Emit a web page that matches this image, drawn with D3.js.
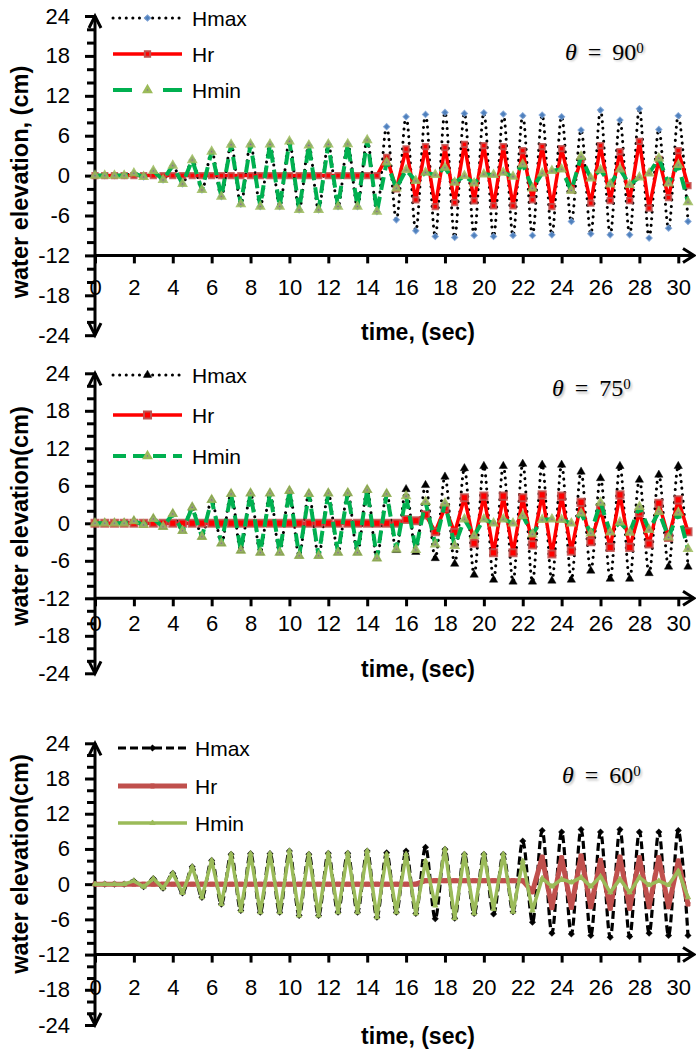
<!DOCTYPE html>
<html><head><meta charset="utf-8">
<script src="https://cdn.jsdelivr.net/npm/d3@7"></script>
<style>body{margin:0;background:#fff}svg{display:block}</style>
</head><body>
<svg id="c" width="696" height="1055"></svg>
<script>
// ---------------- data ----------------
const times = [0,0.5,1,1.5,2,2.5,3,3.5,4,4.5,5,5.5,6,6.5,7,7.5,8,8.5,9,9.5,10,10.5,11,11.5,12,12.5,13,13.5,14,14.5,15,15.5,16,16.5,17,17.5,18,18.5,19,19.5,20,20.5,21,21.5,22,22.5,23,23.5,24,24.5,25,25.5,26,26.5,27,27.5,28,28.5,29,29.5,30,30.5];
const xTickLabels = [0,2,4,6,8,10,12,14,16,18,20,22,24,26,28,30];
const yTickLabels = [-24,-18,-12,-6,0,6,12,18,24];
const seriesNames = ["Hmax","Hr","Hmin"];

// theta = 90
const hmax90 = [0,0,0,0,0.35,-0.2,0.7,-0.65,1.5,-1.25,2.35,-2.15,3.6,-3.15,4.65,-4.3,4.7,-4.65,4.7,-4.65,5.15,-5.15,4.55,-5.15,4.7,-4.65,4.75,-4.65,5.35,-5.4,
  7.35,-6.65,8.85,-8.3,9.2,-9.15,9.5,-9.3,9.35,-9.0,9.45,-9.15,9.25,-9.0,9.0,-9.0,9.1,-8.9,8.85,-6.9,6.85,-8.75,9.85,-8.9,8.35,-8.9,10.05,-9.4,6.95,-7.9,9.0,-6.9];
const hr90 = [0,0,0,0,0,0,0,0,0,0,0,0,0,0,0,0,0,0,0,0,0,0,0,0,0,0,0,0,0,0,
  2.75,-2.0,4.0,-3.65,4.35,-4.65,4.2,-4.05,4.7,-3.8,4.5,-4.55,4.35,-4.55,3.75,-3.65,4.35,-4.65,4.05,-2.15,2.35,-4.15,4.5,-3.75,3.6,-3.75,5.15,-4.9,2.45,-3.3,3.75,-1.5];
const hmin90 = [0,0,0,0,0.35,-0.2,0.7,-0.65,1.5,-1.25,2.35,-2.15,3.6,-3.15,4.65,-4.3,4.7,-4.65,4.7,-4.65,5.15,-5.15,4.55,-5.15,4.7,-4.65,4.75,-4.65,5.35,-5.4,
  2.0,-1.9,0.85,-0.8,0.45,0.1,1.2,-1.05,-0.05,-1.15,0.2,0.1,0.45,-0.15,1.7,-1.9,0.35,0.7,0.95,-2.25,2.85,-0.4,0.85,-1.3,0.95,-1.4,-0.25,0.35,2.6,-1.15,1.6,-4.0];

// theta = 75
const hmax75 = [0,0,0,0,0.35,-0.25,0.7,-0.55,1.5,-1.2,2.55,-2.15,3.75,-3.2,4.7,-4.35,4.8,-4.7,4.8,-4.7,5.2,-5.2,4.7,-5.2,4.8,-4.7,4.85,-4.7,5.35,-5.6,4.7,
  -4.3,5.45,-4.6,6.1,-5.6,7.45,-6.5,8.8,-8.25,9.15,-9.05,9.15,-9.35,9.5,-9.35,9.35,-9.2,9.35,-9.05,8.25,-7.6,7.2,-8.9,9.15,-8.9,6.95,-8.0,7.75,-6.95,9.15,-6.95];
const hr75 = [0,0,0,0,0,0,0,0,0,0,0,0,0,0,0,0,0,0,0,0,0,0,0,0,0,0,0,0,0,0,0,0,
  0.6,0.4,1.35,-1.35,2.5,-1.45,4.1,-3.2,4.35,-4.7,4.35,-4.7,4.1,-3.45,4.55,-4.9,4.35,-4.45,3.35,-2.95,2.15,-3.85,4.55,-3.85,1.7,-3.3,3.2,-2.25,3.75,-1.35];
const hmin75 = [0,0,0,0,0.35,-0.25,0.7,-0.55,1.5,-1.2,2.55,-2.15,3.75,-3.2,4.7,-4.35,4.8,-4.7,4.8,-4.7,5.2,-5.2,4.7,-5.2,4.8,-4.7,4.85,-4.7,5.35,-5.6,
  4.7,-4.15,4.35,-4.25,3.45,-3.35,3.2,-3.6,0.65,-2.0,0.65,0,0.65,0,1.2,-1.75,0.55,0.65,0.55,0,1.6,-1.6,3.3,-1.45,0.15,-1.5,2.65,-1.05,1.85,-2.25,1.7,-4.1];

// theta = 60
const hmax60 = [0,0,0,0,0.55,-0.45,0.95,-0.7,1.85,-1.5,2.95,-2.25,4.05,-3.4,5.1,-4.5,5.2,-4.8,5.2,-4.8,5.65,-5.35,5.1,-5.35,5.25,-4.8,5.25,-4.8,5.65,-5.65,
  5.35,-4.8,5.65,-5.0,6.3,-5.9,5.95,-5.8,5.1,-5.0,5.1,-5.1,5.1,-4.7,7.35,-6.5,9.15,-8.35,8.9,-8.5,9.3,-8.75,8.9,-9.05,9.3,-8.9,8.9,-8.35,8.9,-8.75,9.15,-8.75];
const hr60 = [0,0,0,0,0,0,0,0,0,0,0,0,0,0,0,0,0,0,0,0,0,0,0,0,0,0,0,0,0,0,0,0,0,0,
  0.6,0.6,0.6,0.6,0.6,0.6,0.6,0.6,0.6,0.6,0.6,
  -1.3,4.6,-4.0,4.5,-3.95,4.8,-3.85,4.05,-4.1,4.6,-4.1,4.5,-3.85,4.5,-3.85,3.95,-3.4];
const hmin60 = [0,0,0,0,0.55,-0.45,0.95,-0.7,1.85,-1.5,2.95,-2.25,4.05,-3.4,5.1,-4.5,5.2,-4.8,5.2,-4.8,5.65,-5.35,5.1,-5.35,5.25,-4.8,5.25,-4.8,5.65,-5.65,
  5.1,-4.8,5.1,-5.0,3.95,-3.65,5.95,-5.8,5.1,-5.0,5.1,-4.25,5.1,-4.7,3.95,-4.5,1.0,-0.4,0.85,0.3,1.15,-0.4,1.3,-1.4,0.85,-1.4,1.15,-0.15,0.55,-0.15,2.25,-2.25];

// ---------------- styles ----------------
const FONT = "'Liberation Sans', Arial, sans-serif";
const sqr = Math.sqrt;
const styleTop = [
  {stroke:"#000", width:3, dash:"0.1,6.5", cap:"round", smooth:true, sym:"diamond", size:20, fill:"#4F81BD", mstroke:"#7FA3D6", msw:1},
  {stroke:"#FF0000", width:3.5, dash:null, cap:"butt", smooth:false, sym:"square", size:28, fill:"#FF0000", mstroke:"#C0504D", msw:2},
  {stroke:"#00B050", width:4, dash:"13,7", cap:"butt", smooth:false, sym:"triangle", size:18, fill:"#8064A2", mstroke:"#9BBB59", msw:2.6, legDash:"19,31"}
];
const styleMid = [
  {stroke:"#000", width:3, dash:"0.1,6.5", cap:"round", smooth:true, sym:"triangle", size:30, fill:"#000", mstroke:"#000", msw:0.5},
  {stroke:"#FF0000", width:3.5, dash:null, cap:"butt", smooth:false, sym:"square", size:50, fill:"#FF0000", mstroke:"#C0504D", msw:2},
  {stroke:"#00B050", width:4, dash:"13,7", cap:"butt", smooth:false, sym:"triangle", size:18, fill:"#8064A2", mstroke:"#9BBB59", msw:2.6, legDash:"13,7"}
];
const styleBot = [
  {stroke:"#000", width:3.2, dash:"8,4", cap:"butt", smooth:true, sym:"diamond", size:16, fill:"#000", mstroke:"#000", msw:1},
  {stroke:"#C0504D", width:5, dash:null, cap:"butt", smooth:false, sym:"square", size:16, fill:"#C0504D", mstroke:"#C0504D", msw:1},
  {stroke:"#9BBB59", width:3.5, dash:null, cap:"butt", smooth:false, sym:"triangle", size:12, fill:"#9BBB59", mstroke:"#9BBB59", msw:1}
];

const panels = [
  {series:[hmax90,hr90,hmin90], styles:styleTop, yTop:16, yBot:335.2, xPad:16, xTitleY:340,
   yTitle:"water elevation, (cm)", yTitleC:182, legY:[18,54,90], legX:[113,182,192], theta:"90", thetaX:565, thetaY:59.5},
  {series:[hmax75,hr75,hmin75], styles:styleMid, yTop:373.3, yBot:673.3, xPad:9, xTitleY:677,
   yTitle:"water elevation(cm)", yTitleC:516, legY:[375,415,456], legX:[113,182,192], theta:"75", thetaX:552, thetaY:396},
  {series:[hmax60,hr60,hmin60], styles:styleBot, yTop:743.3, yBot:1025, xPad:17, xTitleY:1044,
   yTitle:"water elevation(cm)", yTitleC:864, legY:[748,786,823], legX:[118,187,195], theta:"60", thetaX:562, thetaY:783}
];

// ---------------- drawing ----------------
const svg = d3.select("#c");
const defs = svg.append("defs");
defs.append("filter").attr("id","blur").append("feGaussianBlur").attr("stdDeviation",1.2);

const x = d3.scaleLinear().domain([0, 30.86]).range([95, 695]);

function symbolPath(st) {
  if (st.sym === "diamond") return d3.symbol().type(d3.symbolSquare).size(st.size)();
  if (st.sym === "square") return d3.symbol().type(d3.symbolSquare).size(st.size)();
  return d3.symbol().type(d3.symbolTriangle).size(st.size)();
}
function markerRot(st){ return st.sym === "diamond" ? " rotate(45)" : ""; }

function drawPanel(p) {
  const y = d3.scaleLinear().domain([-24, 24]).range([p.yBot, p.yTop]);
  const g = svg.append("g");
  const ax = x(0), axY = y(-12);

  // y axis
  const yAxis = d3.axisLeft(y).tickValues(y.ticks(24)).tickSize(9).tickPadding(16)
      .tickFormat(d => yTickLabels.includes(d) ? String(d) : "");
  const gy = g.append("g").attr("transform", `translate(${ax},0)`).call(yAxis);
  gy.select(".domain").remove();
  gy.selectAll(".tick line").attr("stroke","#000").attr("stroke-width",3)
     .attr("x2", d => yTickLabels.includes(d) ? -10 : -8);
  gy.selectAll(".tick text").attr("font-family",FONT).attr("font-size",22).attr("fill","#000");
  g.append("line").attr("x1",ax).attr("x2",ax).attr("y1",y(24)).attr("y2",y(-24))
    .attr("stroke","#000").attr("stroke-width",3);
  // arrows on y axis
  g.append("path").attr("d",`M${ax-6},${y(24)+12}L${ax},${y(24)}L${ax+6},${y(24)+12}`)
    .attr("fill","none").attr("stroke","#000").attr("stroke-width",3);
  g.append("path").attr("d",`M${ax-6},${y(-24)-12}L${ax},${y(-24)}L${ax+6},${y(-24)-12}`)
    .attr("fill","none").attr("stroke","#000").attr("stroke-width",3);

  // x axis at y = -12
  const xAxis = d3.axisBottom(x).tickValues(xTickLabels).tickSize(8).tickPadding(p.xPad)
      .tickFormat(d => String(d));
  const gx = g.append("g").attr("transform", `translate(0,${axY})`).call(xAxis);
  gx.select(".domain").remove();
  gx.selectAll(".tick line").attr("stroke","#000").attr("stroke-width",3);
  gx.selectAll(".tick text").attr("font-family",FONT).attr("font-size",22).attr("fill","#000");
  g.append("line").attr("x1",ax).attr("x2",694).attr("y1",axY).attr("y2",axY)
    .attr("stroke","#000").attr("stroke-width",3);
  g.append("path").attr("d",`M683,${axY-7}L694,${axY}L683,${axY+7}`)
    .attr("fill","none").attr("stroke","#000").attr("stroke-width",3);

  // titles
  g.append("text").attr("x",418).attr("y",p.xTitleY).attr("text-anchor","middle")
    .attr("font-family",FONT).attr("font-weight","bold").attr("font-size",23).text("time, (sec)");
  g.append("text").attr("transform",`translate(28,${p.yTitleC}) rotate(-90)`).attr("text-anchor","middle")
    .attr("font-family",FONT).attr("font-weight","bold").attr("font-size",23.5).text(p.yTitle);

  // series
  p.series.forEach((vals, i) => {
    const st = p.styles[i];
    const data = times.map((t, k) => ({t, v: vals[k]}));
    const line = d3.line().x(d => x(d.t)).y(d => y(d.v))
      .curve(st.smooth ? d3.curveCatmullRom.alpha(0.5) : d3.curveLinear);
    g.append("path").datum(data).attr("d", line).attr("fill","none")
      .attr("stroke", st.stroke).attr("stroke-width", st.width)
      .attr("stroke-dasharray", st.dash).attr("stroke-linecap", st.cap).attr("stroke-linejoin","round");
    g.append("g").selectAll("path").data(data).join("path")
      .attr("d", symbolPath(st))
      .attr("transform", d => `translate(${x(d.t)},${y(d.v)})` + markerRot(st))
      .attr("fill", st.fill).attr("stroke", st.mstroke).attr("stroke-width", st.msw)
      .attr("stroke-opacity", 0.85);
  });

  // legend
  seriesNames.forEach((name, i) => {
    const st = p.styles[i];
    const ly = p.legY[i];
    const lg = g.append("g");
    lg.append("line").attr("x1",p.legX[0]).attr("x2",p.legX[1]).attr("y1",ly).attr("y2",ly)
      .attr("stroke",st.stroke).attr("stroke-width",st.width)
      .attr("stroke-dasharray", st.legDash || st.dash).attr("stroke-linecap",st.cap);
    lg.append("path").attr("d", symbolPath(st))
      .attr("transform",`translate(${(p.legX[0]+p.legX[1])/2},${ly})` + markerRot(st))
      .attr("fill",st.fill).attr("stroke",st.mstroke).attr("stroke-width",st.msw);
    lg.append("text").attr("x",p.legX[2]).attr("y",ly).attr("dy","0.36em")
      .attr("font-family",FONT).attr("font-size",21).attr("fill","#000").text(name);
  });

  // theta label with soft shadow
  [["#999", 1.5, true], ["#000", 0, false]].forEach(([col, off, blur]) => {
    const t = g.append("text").attr("x", p.thetaX + off).attr("y", p.thetaY + off)
      .attr("font-family","'Liberation Serif', 'Times New Roman', serif").attr("font-size",24)
      .attr("fill", col);
    if (blur) t.attr("filter","url(#blur)").attr("opacity",0.7);
    t.append("tspan").attr("font-style","italic").text("θ");
    t.append("tspan").attr("dx",11).text("=");
    t.append("tspan").attr("dx",11).text(p.theta);
    t.append("tspan").attr("dy",-7).attr("font-size",15).text("0");
  });
}

panels.forEach(drawPanel);
</script>
</body></html>
